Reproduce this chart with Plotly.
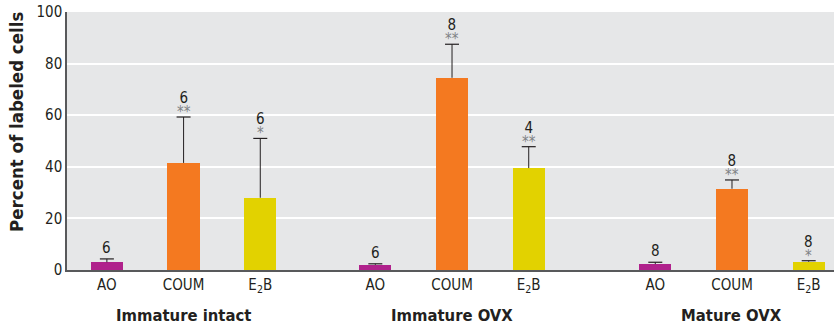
import plotly.graph_objects as go

groups = ["Immature intact", "Immature OVX", "Mature OVX"]
treatments = ["AO", "COUM", "E<sub>2</sub>B"]

ao_mean = [3.0, 2.0, 2.3]
ao_err = [1.3, 0.4, 0.7]
ao_n = ["6", "6", "8"]
ao_sig = ["", "", ""]

coum_mean = [41.5, 74.5, 31.5]
coum_err = [17.8, 13.0, 3.4]
coum_n = ["6", "8", "8"]
coum_sig = ["**", "**", "**"]

e2b_mean = [28.0, 39.5, 3.2]
e2b_err = [23.0, 8.3, 0.4]
e2b_n = ["6", "4", "8"]
e2b_sig = ["*", "**", "*"]

colors = ["#B0228C", "#F47920", "#E2D200"]
group_offsets = [0, 3.5, 7.15]
FONT = "Liberation Sans Narrow, DejaVu Sans Condensed, Arial Narrow, sans-serif"

series = [
    (ao_mean, ao_err, ao_n, ao_sig),
    (coum_mean, coum_err, coum_n, coum_sig),
    (e2b_mean, e2b_err, e2b_n, e2b_sig),
]

fig = go.Figure()
annotations = []
tickvals, ticktext = [], []
for ti, (means, errs, ns, sigs) in enumerate(series):
    xs = [g + ti for g in group_offsets]
    fig.add_trace(go.Bar(x=xs, y=means, width=0.42, marker=dict(color=colors[ti], line=dict(width=0)),
                         showlegend=False, hoverinfo="skip"))
    # error stems
    sx, sy = [], []
    for x, m, e in zip(xs, means, errs):
        sx += [x, x, None]
        sy += [m, m + e, None]
    fig.add_trace(go.Scatter(x=sx, y=sy, mode="lines", line=dict(color="#231F20", width=1),
                             showlegend=False, hoverinfo="skip"))
    fig.add_trace(go.Scatter(x=xs, y=[m + e for m, e in zip(means, errs)], mode="markers",
                             marker=dict(symbol="line-ew", size=10, line=dict(color="#231F20", width=1.2)),
                             showlegend=False, hoverinfo="skip"))
    for x, m, e, n, s in zip(xs, means, errs, ns, sigs):
        top = m + e
        if s:
            txt = ("<span style='font-size:15px'>" + n + "</span><br>"
                   "<span style='font-size:15px;color:#808285'>" + s + "</span>")
            annotations.append(dict(x=x, y=top, xref="x", yref="y", text=txt, showarrow=False,
                                    yanchor="bottom", yshift=-6,
                                    font=dict(family=FONT, size=11, color="#231F20")))
        else:
            annotations.append(dict(x=x, y=top, xref="x", yref="y", text=n, showarrow=False,
                                    yanchor="bottom", yshift=0,
                                    font=dict(family=FONT, size=15, color="#231F20")))
    for x in xs:
        tickvals.append(x)
        ticktext.append(treatments[ti])

for g, name in zip(group_offsets, groups):
    annotations.append(dict(x=g + 1, y=-0.13, xref="x", yref="paper", text="<b>" + name + "</b>",
                            showarrow=False, yanchor="top",
                            font=dict(family=FONT, size=16.5, color="#231F20")))

annotations.append(dict(x=0, y=0.574, xref="paper", yref="paper", xanchor="center", yanchor="middle",
                        xshift=-50, text="<b>Percent of labeled cells</b>", textangle=-90, showarrow=False,
                        font=dict(family=FONT, size=18.5, color="#231F20")))

fig.update_layout(
    width=834, height=330,
    margin=dict(l=67, r=0, t=12, b=60),
    paper_bgcolor="white", plot_bgcolor="#E6E7E8",
    font=dict(family=FONT, size=14, color="#231F20"),
    annotations=annotations,
    bargap=0,
)
fig.update_xaxes(range=[-0.52, 9.48], tickvals=tickvals, ticktext=ticktext, showgrid=False,
                 showline=True, linecolor="#58595B", linewidth=1.5, ticks="", zeroline=False,
                 tickfont=dict(family=FONT, size=15, color="#231F20"))
fig.update_yaxes(range=[0, 100], tickvals=[0, 20, 40, 60, 80, 100], showgrid=True, gridcolor="white",
                 gridwidth=1.5, showline=True, linecolor="#58595B", linewidth=1.5, ticks="", zeroline=False,
                 tickfont=dict(family=FONT, size=15, color="#231F20"))

fig.write_html("out.html", config={"displayModeBar": False},
               post_script="document.body.style.margin='0';document.body.style.overflow='hidden';")
